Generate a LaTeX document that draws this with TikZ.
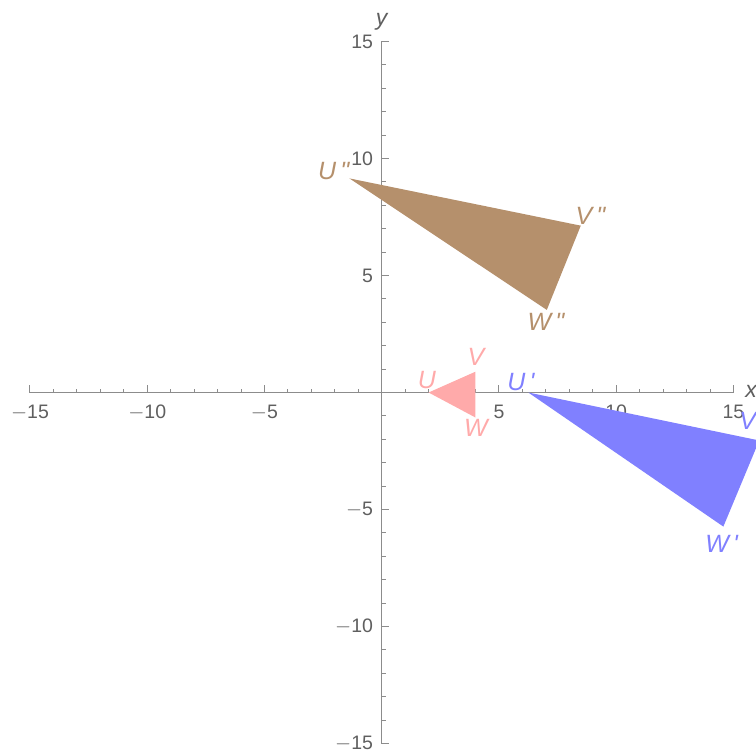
\documentclass[tikz,border=0pt]{standalone}
\usepackage{fontspec}
\setmainfont{Liberation Sans}
\begin{document}
\begin{tikzpicture}[x=23.45pt,y=23.4pt,
  axisline/.style={draw=axisgray,line width=0.9pt},
  ticklab/.style={text=labgray,font=\fontsize{19.5}{19.5}\selectfont,inner sep=0pt},
  axlab/.style={text=labgray,font=\fontsize{23}{23}\selectfont\itshape,inner sep=0pt},
  ptlab/.style={font=\fontsize{25}{25}\selectfont\itshape,inner sep=0pt}]
\definecolor{axisgray}{RGB}{140,140,140}
\definecolor{labgray}{RGB}{95,95,95}
\definecolor{pinkc}{RGB}{255,170,170}
\definecolor{bluec}{RGB}{128,128,255}
\definecolor{brownc}{RGB}{181,144,108}
\clip (-381.7pt,-360.5pt) rectangle (374.3pt,392.5pt);
% axes
\coordinate (xl) at (-15,0); \coordinate (xr) at (15,0);
\coordinate (yb) at (0,-15); \coordinate (yt) at (0,15);
\draw[axisline] (xl) -- (xr);
\draw[axisline] (yb) -- (yt);
\foreach \t in {-15,...,15}{
  \draw[axisline] (\t,0) -- ++(0,3.8pt);
  \draw[axisline] (0,\t) -- ++(4pt,0);
}
\foreach \t in {-15,-10,-5,5,10,15}{
  \draw[axisline] (\t,0) -- ++(0,7.5pt);
  \draw[axisline] (0,\t) -- ++(7.5pt,0);
}
\foreach \t/\s in {-15/$-$15,-10/$-$10,-5/$-$5,5/5,10/10,15/15}{
  \node[ticklab,anchor=north] (xt\t) at ([yshift=-12pt]\t,0) {\s};
  \node[ticklab,anchor=east] (yt\t) at ([xshift=-8.5pt]0,\t) {\s};
}
\node[axlab] (xlab) at (15.75,0.05) {x};
\node[axlab] (ylab) at (0,15.85) {y};
% triangles
\coordinate (U) at (2,0); \coordinate (V) at (4,0.89); \coordinate (W) at (4,-1.07);
\coordinate (U1) at (6.25,0); \coordinate (V1) at (16.1,-2.05); \coordinate (W1) at (14.57,-5.73);
\coordinate (U2) at (-1.38,9.15); \coordinate (V2) at (8.49,7.13); \coordinate (W2) at (7.04,3.53);
\fill[pinkc] (U) -- (V) -- (W) -- cycle;
\fill[bluec] (U1) -- (V1) -- (W1) -- cycle;
\fill[brownc] (U2) -- (V2) -- (W2) -- cycle;
% labels
\node[ptlab,text=pinkc] (lU) at (1.93,0.55) {U};
\node[ptlab,text=pinkc] (lV) at (4.02,1.52) {V};
\node[ptlab,text=pinkc] (lW) at (4.02,-1.52) {W};
\node[ptlab,text=bluec] (lU1) at (5.94,0.43) {U\,\textquotesingle};
\node[ptlab,text=bluec] (lV1) at (15.8,-1.22) {V\,\textquotesingle};
\node[ptlab,text=bluec] (lW1) at (14.5,-6.47) {W\,\textquotesingle};
\node[ptlab,text=brownc] (lU2) at (-2.05,9.47) {U\,\textquotedbl};
\node[ptlab,text=brownc] (lV2) at (8.9,7.54) {V\,\textquotedbl};
\node[ptlab,text=brownc] (lW2) at (7.0,3.01) {W\,\textquotedbl};
\end{tikzpicture}
\end{document}
